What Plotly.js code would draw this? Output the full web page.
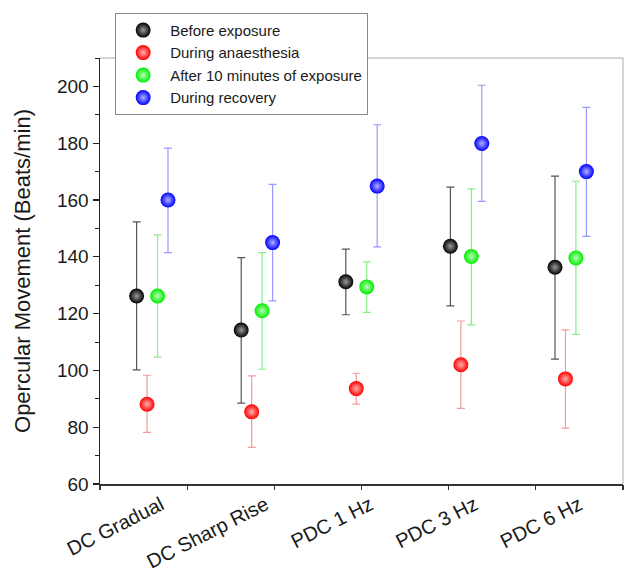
<!DOCTYPE html>
<html>
<head>
<meta charset="utf-8">
<script src="https://cdn.plot.ly/plotly-3.0.1.min.js"></script>
<style>html,body{margin:0;padding:0;background:#fff;}#chart{width:624px;height:573px;}</style>
</head>
<body>
<div id="chart"></div>
<script>
// Categories (exposure types)
const categories = ["DC Gradual", "DC Sharp Rise", "PDC 1 Hz", "PDC 3 Hz", "PDC 6 Hz"];

// Series names
const seriesNames = ["Before exposure", "During anaesthesia", "After 10 minutes of exposure", "During recovery"];

// Mean opercular movement (beats/min)
const beforeMean   = [126.2, 114.2, 131.2, 143.7, 136.3];
const anaesMean    = [88.1, 85.4, 93.6, 102.0, 97.0];
const afterMean    = [126.2, 121.0, 129.4, 140.1, 139.6];
const recoveryMean = [160.0, 145.0, 164.9, 179.9, 170.0];

// Upper error (plus) and lower error (minus)
const beforeErrPlus    = [26.1, 25.5, 11.5, 20.8, 32.1];
const beforeErrMinus   = [26.0, 25.7, 11.6, 21.0, 32.3];
const anaesErrPlus     = [10.2, 12.7, 5.4, 15.4, 17.3];
const anaesErrMinus    = [9.9, 12.5, 5.5, 15.4, 17.3];
const afterErrPlus     = [21.5, 20.5, 8.8, 23.8, 27.0];
const afterErrMinus    = [21.5, 20.6, 9.0, 24.1, 26.9];
const recoveryErrPlus  = [18.3, 20.5, 21.6, 20.5, 22.6];
const recoveryErrMinus = [18.5, 20.5, 21.4, 20.4, 22.8];

// y-axis ticks
const yTickVals = [60, 80, 100, 120, 140, 160, 180, 200];

const means = [beforeMean, anaesMean, afterMean, recoveryMean];
const errPlus = [beforeErrPlus, anaesErrPlus, afterErrPlus, recoveryErrPlus];
const errMinus = [beforeErrMinus, anaesErrMinus, afterErrMinus, recoveryErrMinus];
const markerColors = ["#000000", "#ff0000", "#00ee00", "#0000ff"];
const highlight = ["#9a9a9a", "#ffb0b0", "#b8ffb8", "#b0b0ff"];
const errColors = ["#555555", "#f49a9a", "#88ee88", "#9999ff"];

const groupStart = 0.42, groupStep = 1.2, seriesStep = 0.12;

const traces = means.map((m, s) => ({
  type: "scatter",
  mode: "markers",
  name: seriesNames[s],
  x: categories.map((c, i) => groupStart + groupStep * i + seriesStep * s),
  y: m,
  marker: {
    size: 15,
    color: markerColors[s],
    gradient: {type: "radial", color: highlight[s]},
    line: {width: 0}
  },
  error_y: {
    type: "data",
    symmetric: false,
    array: errPlus[s],
    arrayminus: errMinus[s],
    color: errColors[s],
    thickness: 1.2,
    width: 4
  },
  xaxis: "x",
  yaxis: "y"
}));

// invisible trace to activate tick-mark axis
traces.push({type: "scatter", x: [0], y: [60], xaxis: "x2", yaxis: "y", mode: "markers",
  marker: {opacity: 0}, showlegend: false, hoverinfo: "skip"});

const font = "Liberation Sans, Arial, sans-serif";
const labelVals = categories.map((c, i) => groupStart + groupStep * i + 0.28);

const layout = {
  width: 624, height: 573,
  margin: {l: 100, r: 1, t: 58, b: 89},
  paper_bgcolor: "#ffffff",
  plot_bgcolor: "#ffffff",
  font: {family: font, color: "#1a1a1a"},
  showlegend: true,
  legend: {
    x: 0.029, y: 1.106, xanchor: "left", yanchor: "top",
    bgcolor: "#ffffff", bordercolor: "#888888", borderwidth: 1,
    font: {family: font, size: 15, color: "#1a1a1a"},
    itemwidth: 44,
    tracegroupgap: 0
  },
  xaxis: {
    range: [0, 6],
    tickmode: "array",
    tickvals: labelVals,
    ticktext: categories,
    tickangle: -27,
    ticks: "",
    ticklen: 0,
    showgrid: false,
    zeroline: false,
    showline: true,
    linecolor: "#333333",
    linewidth: 1.5,
    tickfont: {family: font, size: 20, color: "#1a1a1a"}
  },
  xaxis2: {
    overlaying: "x",
    side: "bottom",
    range: [0, 6],
    tickmode: "array",
    tickvals: [0, 1, 2, 3, 4, 5, 6],
    ticks: "outside",
    ticklen: 5,
    tickwidth: 1.2,
    tickcolor: "#333333",
    showticklabels: false,
    showgrid: false,
    zeroline: false,
    showline: false
  },
  yaxis: {
    range: [60, 210],
    tickmode: "array",
    tickvals: yTickVals,
    ticks: "outside",
    ticklen: 6,
    tickwidth: 1.2,
    tickcolor: "#222222",
    minor: {tickmode: "linear", tick0: 60, dtick: 10, ticks: "outside", ticklen: 4, tickcolor: "#222222", tickwidth: 1},
    showgrid: false,
    zeroline: false,
    showline: true,
    linecolor: "#222222",
    linewidth: 1.5,
    tickfont: {family: font, size: 19, color: "#1a1a1a"},
    title: {text: "Opercular Movement (Beats/min)", font: {family: font, size: 22, color: "#1a1a1a"}, standoff: 20}
  },
  shapes: [
    {type: "line", xref: "paper", yref: "paper", x0: 0, x1: 1, y0: 1, y1: 1, line: {color: "#aaaaaa", width: 1}},
    {type: "line", xref: "paper", yref: "paper", x0: 1, x1: 1, y0: 0, y1: 1, line: {color: "#aaaaaa", width: 1}}
  ]
};

Plotly.newPlot("chart", traces, layout, {displayModeBar: false, staticPlot: true});
</script>
</body>
</html>
